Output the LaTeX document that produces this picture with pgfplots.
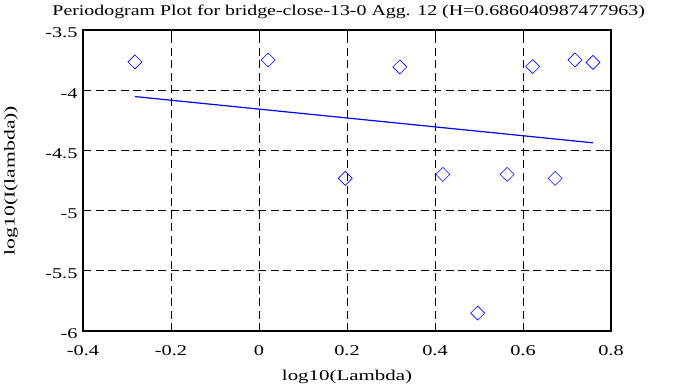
\documentclass[border=0pt]{standalone}
\usepackage{pgfplots}
\pgfplotsset{compat=1.18}
\usepackage{fontspec}
\setmainfont[FakeStretch=1.36]{Liberation Serif}
\newfontfamily\titlefont[FakeStretch=1.33]{Liberation Serif}
\newfontfamily\xlabfont[FakeStretch=1.40]{Liberation Serif}
\newfontfamily\ylabfont[FakeStretch=1.45]{Liberation Serif}
\begin{document}
\begin{tikzpicture}[x=1bp,y=1bp]
\useasboundingbox (0,0) rectangle (695,387);
\begin{axis}[
  at={(83bp,56bp)}, anchor=south west,
  scale only axis, width=528bp, height=301bp,
  xmin=-0.4, xmax=0.8, ymin=-6, ymax=-3.5,
  xtick={-0.4,-0.2,0,0.2,0.4,0.6,0.8},
  ytick={-6,-5.5,-5,-4.5,-4,-3.5},
  xticklabels={-0.4,-0.2,0,0.2,0.4,0.6,0.8},
  yticklabels={-6,-5.5,-5,-4.5,-4,-3.5},
  tick align=inside, major tick length=6bp,
  tick style={black, line width=1bp},
  axis line style={black, line width=2bp},
  grid=major,
  major grid style={black, line width=0.9bp, dash pattern=on 8bp off 4.5bp},
  ticklabel style={font=\fontsize{15}{18}\selectfont},
  xticklabel style={yshift=-11bp},
  yticklabel style={xshift=-2bp, yshift=-3bp},
  clip=false,
]
\addplot[only marks, blue, mark=square, mark size=4.95bp, mark options={rotate=45, line width=0.6bp, solid}]
 coordinates {
 (-0.282,-3.765) (0.021,-3.749) (0.196,-4.732) (0.320,-3.807)
 (0.418,-4.699) (0.497,-5.851) (0.564,-4.699) (0.622,-3.804)
 (0.673,-4.732) (0.718,-3.749) (0.759,-3.769)
 };
\addplot[blue, line width=1.2bp] coordinates {(-0.282,-4.053) (0.759,-4.437)};
\end{axis}
\node[font=\titlefont\fontsize{15}{18}\selectfont, anchor=base, inner sep=0pt] at (348.7,371.5) {Periodogram Plot for bridge-close-13-0 Agg. 12 (H=0.686040987477963)};
\node[font=\xlabfont\fontsize{15}{18}\selectfont, anchor=base, inner sep=0pt] at (347,7) {log10(Lambda)};
\node[font=\ylabfont\fontsize{15}{18}\selectfont, rotate=90, anchor=base, inner sep=0pt] at (14.7,206.5) {log10(I(lambda))};
\end{tikzpicture}
\end{document}
